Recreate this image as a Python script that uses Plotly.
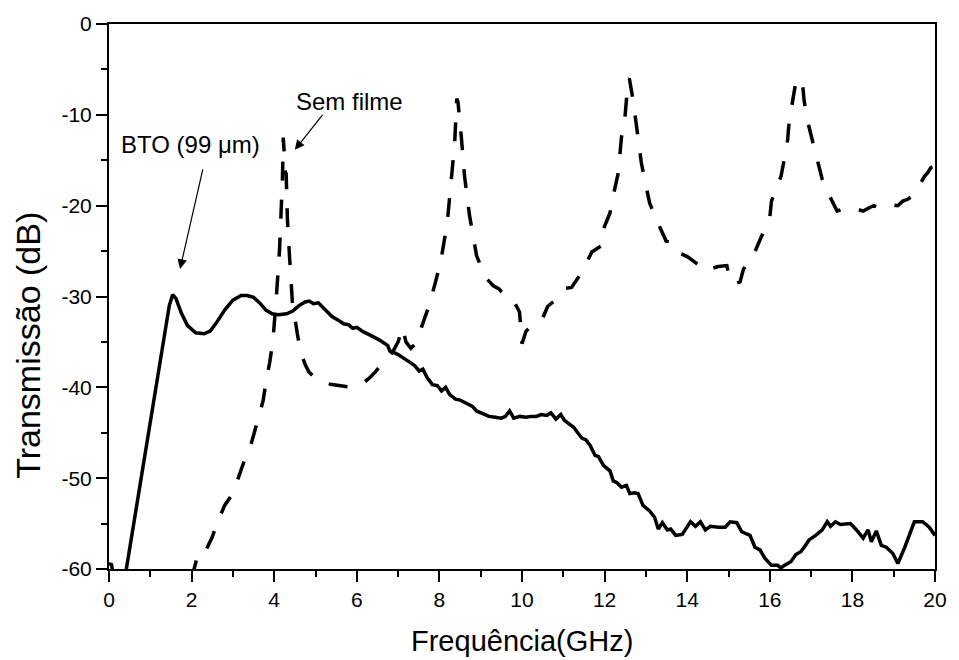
import plotly.graph_objects as go

# BTO (99 um) - solid line
bto_x = [0.0, 0.06, 0.12, 0.3, 0.42, 0.98, 1.46, 1.54, 1.62, 1.75, 1.9, 2.1, 2.3, 2.45, 2.6, 2.8, 3.0, 3.2, 3.35,
         3.5, 3.65, 3.8, 3.95, 4.1, 4.3, 4.45, 4.6, 4.75, 4.85, 4.95, 5.07, 5.2, 5.4, 5.55, 5.68, 5.8, 5.9, 6.0,
         6.16, 6.3, 6.45, 6.55, 6.65, 6.75, 6.8, 6.87, 7.0, 7.15, 7.27, 7.4, 7.51, 7.6, 7.7, 7.83, 7.95, 8.05,
         8.15, 8.25, 8.39, 8.5, 8.65, 8.8, 8.9, 9.05, 9.2, 9.35, 9.5, 9.6, 9.7, 9.8, 9.95, 10.1, 10.22, 10.35,
         10.46, 10.6, 10.7, 10.82, 10.94, 11.02, 11.1, 11.25, 11.35, 11.45, 11.55, 11.65, 11.77, 11.85, 11.97,
         12.13, 12.21, 12.3, 12.41, 12.53, 12.61, 12.72, 12.81, 12.93, 13.09, 13.21, 13.3, 13.4, 13.52, 13.6,
         13.72, 13.88, 13.98, 14.08, 14.2, 14.32, 14.44, 14.56, 14.76, 14.92, 15.04, 15.2, 15.32, 15.45, 15.52,
         15.64, 15.76, 15.88, 16.04, 16.19, 16.27, 16.35, 16.51, 16.63, 16.75, 16.85, 16.95, 17.11, 17.27, 17.39,
         17.47, 17.59, 17.71, 17.95, 18.1, 18.26, 18.38, 18.46, 18.58, 18.7, 18.82, 18.98, 19.1, 19.26, 19.4,
         19.5, 19.7, 19.86, 20.0]
bto_y = [-59.4, -59.5, -61, -62, -60, -44.4, -31.0, -29.8, -30.2, -31.8, -33.2, -34.0, -34.1, -33.8, -32.9, -31.5,
         -30.4, -29.9, -29.9, -30.1, -30.7, -31.5, -31.9, -32.0, -31.9, -31.6, -31.0, -30.6, -30.5, -30.8, -30.7,
         -31.3, -32.2, -32.6, -33.0, -33.1, -33.5, -33.4, -33.9, -34.2, -34.5, -34.8, -35.1, -35.4, -36.0, -36.1,
         -36.4, -36.9, -37.2, -37.6, -38.2, -38.0, -38.9, -39.7, -39.8, -40.4, -40.0, -40.8, -41.3, -41.4, -41.8,
         -42.1, -42.6, -42.9, -43.2, -43.3, -43.4, -43.2, -42.6, -43.4, -43.2, -43.3, -43.2, -43.2, -43.0, -43.1,
         -42.8, -43.5, -43.0, -43.6, -43.9, -44.4, -45.0, -45.6, -45.8, -46.4, -47.5, -47.6, -48.6, -49.2, -50.3,
         -50.5, -51.0, -50.8, -51.7, -51.6, -51.7, -53.0, -53.6, -54.3, -55.6, -54.9, -55.7, -55.6, -56.3, -56.2,
         -55.5, -54.8, -55.3, -54.8, -55.7, -55.3, -55.4, -55.4, -54.8, -54.9, -55.9, -56.1, -56.3, -57.6, -57.9,
         -58.8, -59.6, -59.6, -59.9, -59.6, -59.2, -58.4, -58.1, -57.5, -56.8, -56.3, -55.7, -54.8, -55.3, -54.8,
         -55.1, -55.0, -55.7, -56.6, -55.7, -57.0, -55.8, -57.4, -57.6, -58.3, -59.4, -57.7, -56.0, -54.8, -54.8,
         -55.4, -56.3]

# Sem filme - dashed line
sem_x = [1.95, 2.06, 2.13, 2.25, 2.35, 2.49, 2.65, 2.8, 2.95, 3.09, 3.29, 3.45, 3.61, 3.73, 3.81, 3.89, 3.97, 4.01,
         4.05, 4.13, 4.17, 4.2, 4.22, 4.25, 4.27, 4.29, 4.32, 4.37, 4.44, 4.56, 4.64, 4.75, 4.84, 5.04, 5.2, 5.4,
         5.6, 5.8, 5.9, 6.0, 6.16, 6.3, 6.45, 6.59, 6.71, 6.87, 7.0, 7.11, 7.19, 7.31, 7.42, 7.51, 7.62, 7.75, 7.9,
         8.03, 8.19, 8.29, 8.37, 8.42, 8.45, 8.53, 8.61, 8.73, 8.9, 9.1, 9.3, 9.45, 9.62, 9.8, 9.94, 10.0, 10.1,
         10.3, 10.5, 10.62, 10.8, 10.93, 11.05, 11.2, 11.35, 11.49, 11.69, 11.85, 11.93, 11.97, 12.13, 12.21,
         12.33, 12.41, 12.49, 12.57, 12.6, 12.69, 12.77, 12.81, 12.89, 12.97, 13.09, 13.25, 13.4, 13.49, 13.6,
         13.68, 13.8, 14.0, 14.12, 14.24, 14.36, 14.48, 14.6, 14.75, 14.96, 15.04, 15.15, 15.28, 15.36, 15.6,
         15.76, 15.9, 16.0, 16.04, 16.15, 16.27, 16.35, 16.43, 16.47, 16.55, 16.63, 16.7, 16.79, 16.83, 16.91,
         17.03, 17.15, 17.27, 17.4, 17.51, 17.63, 17.75, 17.9, 18.05, 18.26, 18.42, 18.52, 18.62, 18.8, 18.95,
         19.1, 19.22, 19.34, 19.46, 19.6, 19.74, 19.82, 19.9, 20.0]
sem_y = [-61, -60, -58.8, -58.9, -57.9, -56.6, -54.6, -53.0, -52.0, -50.5, -47.9, -46.1, -43.5, -41.5, -39.2, -37.3,
         -34.8, -32.8, -30.2, -24.8, -21.1, -17.0, -12.5, -16.0, -16.3, -16.5, -21.5, -25.5, -30.6, -34.1, -36.1,
         -37.5, -38.3, -39.2, -39.5, -39.7, -39.8, -39.9, -40.0, -39.8, -39.5, -39.0, -38.3, -37.5, -37.1, -36.1,
         -35.0, -33.4, -35.0, -35.7, -35.2, -34.1, -32.8, -31.0, -28.5, -26.2, -21.9, -17.5, -13.1, -8.2, -8.6,
         -12.4, -16.8, -21.1, -25.5, -27.8, -28.8, -29.2, -30.1, -30.5, -31.7, -35.2, -33.8, -33.0, -32.4, -31.1,
         -30.4, -29.9, -29.1, -29.0, -28.0, -27.0, -25.1, -24.6, -24.4, -22.6, -20.8, -18.9, -16.4, -12.4, -10.4,
         -6.2, -6.0, -8.4, -10.9, -12.8, -15.3, -17.1, -19.7, -21.5, -23.0, -23.9, -24.0, -24.9, -25.2, -25.6,
         -26.0, -26.4, -26.8, -26.5, -26.9, -26.7, -26.6, -28.4, -28.6, -28.4, -27.0, -25.5, -23.7, -22.3, -21.3,
         -19.5, -18.2, -16.8, -14.9, -12.8, -10.7, -8.4, -6.4, -6.0, -6.4, -8.4, -10.6, -12.8, -14.9, -17.1,
         -18.5, -19.5, -20.6, -20.4, -20.2, -20.3, -20.6, -20.2, -20.0, -20.2, -20.2, -19.9, -20.0, -19.5, -19.3,
         -18.9, -18.0, -16.8, -16.4, -15.8, -15.6]

x_ticks = [0, 2, 4, 6, 8, 10, 12, 14, 16, 18, 20]
x_ticktext = ["0", "2", "4", "6", "8", "10", "12", "14", "16", "18", "20"]
y_ticks = [0, -10, -20, -30, -40, -50, -60]
y_ticktext = ["0", "-10", "-20", "-30", "-40", "-50", "-60"]

x_title = "Frequência(GHz)"
y_title = "Transmissão (dB)"
label_bto = "BTO (99 μm)"
label_sem = "Sem filme"

FONT = "Arial, Liberation Sans, sans-serif"

fig = go.Figure()
fig.add_trace(go.Scatter(x=sem_x, y=sem_y, mode="lines", name=label_sem,
                         line=dict(color="black", width=3.5, dash="19px,19px")))
fig.add_trace(go.Scatter(x=bto_x, y=bto_y, mode="lines", name=label_bto,
                         line=dict(color="black", width=3.5)))

axis_common = dict(showline=True, linecolor="black", linewidth=2, mirror=True,
                   ticks="outside", ticklen=11, tickwidth=2, tickcolor="black",
                   showgrid=False, zeroline=False,
                   tickfont=dict(family=FONT, size=21, color="black"))

fig.update_xaxes(range=[0, 20], tickvals=x_ticks, ticktext=x_ticktext,
                 minor=dict(dtick=1, tick0=0, ticks="outside", ticklen=6, tickwidth=2, tickcolor="black"),
                 **axis_common)
fig.update_yaxes(range=[-60, 0], tickvals=y_ticks, ticktext=y_ticktext,
                 minor=dict(dtick=5, tick0=0, ticks="outside", ticklen=6, tickwidth=2, tickcolor="black"),
                 **axis_common)

annotations = [
    dict(x=0.5, y=-0.133, xref="paper", yref="paper", text=x_title, showarrow=False,
         font=dict(family=FONT, size=29, color="black"), xanchor="center", yanchor="middle"),
    dict(x=-0.099, y=0.41, xref="paper", yref="paper", text=y_title, showarrow=False, textangle=-90,
         font=dict(family=FONT, size=34, color="black"), xanchor="center", yanchor="middle"),
    dict(x=1.98, y=-13.3, xref="x", yref="y", text=label_bto, showarrow=False,
         font=dict(family=FONT, size=24, color="black")),
    dict(x=5.82, y=-8.5, xref="x", yref="y", text=label_sem, showarrow=False,
         font=dict(family=FONT, size=24, color="black")),
    dict(x=1.72, y=-26.96, ax=2.28, ay=-15.85, xref="x", yref="y", axref="x", ayref="y",
         text="", showarrow=True, arrowhead=2, arrowsize=1.6, arrowwidth=1.2, arrowcolor="black"),
    dict(x=4.50, y=-13.85, ax=5.2, ay=-9.84, xref="x", yref="y", axref="x", ayref="y",
         text="", showarrow=True, arrowhead=2, arrowsize=1.6, arrowwidth=1.2, arrowcolor="black"),
]

fig.update_layout(width=959, height=660, margin=dict(l=109, r=13, t=20, b=91),
                  paper_bgcolor="white", plot_bgcolor="white", showlegend=False,
                  annotations=annotations, font=dict(family=FONT, color="black"))

fig.write_html("out.html")
